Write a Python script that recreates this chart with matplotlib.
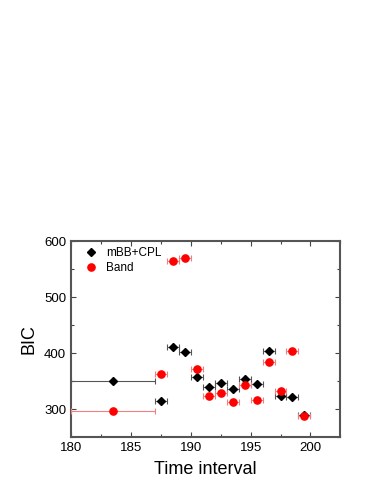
import matplotlib
matplotlib.use("Agg")
import matplotlib.pyplot as plt
from matplotlib.ticker import MultipleLocator
from matplotlib.lines import Line2D

plt.rcParams['font.family'] = ['Liberation Sans', 'DejaVu Sans']

# Black series (mBB+CPL)
x_cpl = [183.5, 187.5, 188.5, 189.5, 190.5, 191.5, 192.5, 193.5, 194.5, 195.5, 196.5, 197.5, 198.5, 199.5]
y_cpl = [350, 314, 410, 401, 357, 339, 346, 335, 353, 345, 403, 324, 322, 289]
# Band series
x_band = [183.5, 187.5, 188.5, 189.5, 190.5, 191.5, 192.5, 193.5, 194.5, 195.5, 196.5, 197.5, 198.5, 199.5]
y_band = [297, 362, 564, 569, 372, 323, 329, 313, 343, 317, 384, 333, 403, 287]
# Interval half-widths
xerr = [3.5, 0.5, 0.5, 0.5, 0.5, 0.5, 0.5, 0.5, 0.5, 0.5, 0.5, 0.5, 0.5, 0.5]

fig = plt.figure(figsize=(3.74, 4.84), dpi=100)
ax = fig.add_axes([0.19, 0.097, 0.72, 0.405])

ax.errorbar(x_cpl, y_cpl, xerr=xerr, fmt='D', color='black', markersize=4.5,
            ecolor='#555555', elinewidth=0.8, capsize=2, capthick=0.8, label='mBB+CPL', zorder=3)
ax.errorbar(x_band, y_band, xerr=xerr, fmt='o', color='red', markersize=5.2,
            ecolor='#f08080', elinewidth=0.8, capsize=2, capthick=0.8, label='Band', zorder=3)

ax.set_xlim(180, 202.5)
ax.set_ylim(250, 600)
ax.xaxis.set_major_locator(MultipleLocator(5))
ax.xaxis.set_minor_locator(MultipleLocator(2.5))
ax.yaxis.set_major_locator(MultipleLocator(100))
ax.yaxis.set_minor_locator(MultipleLocator(50))
ax.tick_params(which='both', direction='in', top=True, right=True, labelsize=9.5, color='#444444')
ax.tick_params(which='major', length=3.5, width=0.8)
ax.tick_params(which='minor', length=2, width=0.8)
for s in ax.spines.values():
    s.set_linewidth(1.5)
    s.set_color('#555555')

ax.set_xlabel('Time interval', fontsize=13, labelpad=5)
ax.set_ylabel('BIC', fontsize=13, labelpad=5)

h = [Line2D([], [], marker='D', color='black', ls='none', markersize=4.5),
     Line2D([], [], marker='o', color='red', ls='none', markersize=5.2)]
ax.legend(h, ['mBB+CPL', 'Band'], loc='upper left', frameon=False, fontsize=8.5,
          handletextpad=0.6, borderaxespad=0.1, labelspacing=0.3, handlelength=1.4,
          bbox_to_anchor=(0.02, 1.0))

fig.savefig('out.png', dpi=100)
